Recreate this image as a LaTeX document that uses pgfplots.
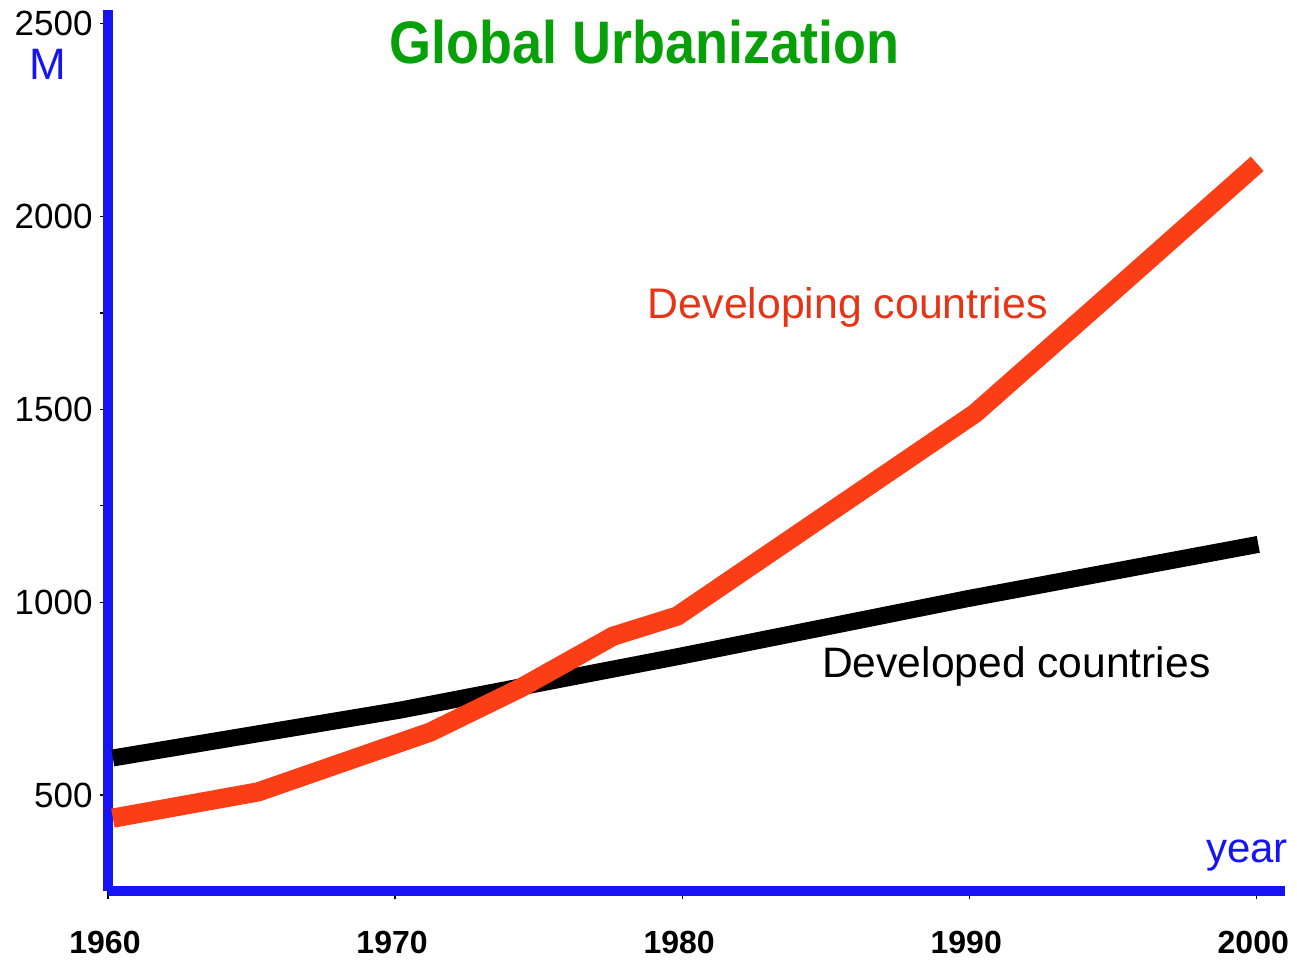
\documentclass[border=0pt]{standalone}
\usepackage{pgfplots}
\pgfplotsset{compat=1.18}
\usepackage{fontspec}
\setmainfont{Liberation Sans}
\definecolor{axblue}{RGB}{20,20,245}
\definecolor{devred}{RGB}{252,62,22}
\definecolor{txtred}{RGB}{232,52,22}
\definecolor{titlegreen}{RGB}{8,160,8}
\begin{document}
\begin{tikzpicture}
\useasboundingbox (0,0) rectangle (648.5pt,480.5pt);
\begin{axis}[
  at={(54pt,35pt)}, anchor=south west,
  scale only axis, width=588.5pt, height=440.5pt,
  xmin=1960, xmax=2001, ymin=251, ymax=2536,
  axis x line=bottom, axis y line=left,
  axis line style={axblue, line width=5pt, -},
  xtick={1960,1970,...,2000},
  ytick={500,1000,...,2500},
  minor ytick={1250,1750},
  tick align=outside,
  major tick length=4pt, minor tick length=4pt,
  tick style={black, line width=0.6pt},
  /pgf/number format/1000 sep={},
  /pgf/number format/assume math mode=true,
  xticklabel style={font=\fontsize{16}{16}\selectfont\bfseries, anchor=base, inner sep=0pt, yshift=-27.5pt, xshift=-1.5pt},
  yticklabel style={font=\fontsize{17.5}{17.5}\selectfont, anchor=east, inner sep=0pt, xshift=-3.5pt},
  clip=false,
]
\addplot[black, line width=8.5pt, line cap=butt, line join=round] coordinates {
  (1960.17,596) (1970.17,720) (1979.93,860) (1989.93,1009) (2000.07,1150)
};
\addplot[devred, line width=9.6pt, line cap=butt, line join=round] coordinates {
  (1960.17,440) (1965.23,508) (1971.22,663) (1974.36,777) (1977.6,912)
  (1979.83,964) (1990.21,1490) (1995,1805) (2000.03,2137)
};
\node[font=\fontsize{30}{30}\selectfont\bfseries, text=titlegreen, xscale=0.9, anchor=base] at (axis cs:1978.68,2396) {Global Urbanization};
\node[font=\fontsize{21.4}{21.4}\selectfont, text=txtred, anchor=base, inner sep=0pt] at (axis cs:1985.77,1736) {Developing countries};
\node[font=\fontsize{21.3}{21.3}\selectfont, text=black, anchor=base, inner sep=0pt] at (axis cs:1991.64,806) {Developed countries};
\node[font=\fontsize{21}{21}\selectfont, text=axblue, anchor=base east, inner sep=0pt] at (axis cs:2001.11,324) {year};
\node[font=\fontsize{22}{22}\selectfont, text=axblue, anchor=base, inner sep=0pt] at (axis cs:1957.91,2355) {M};
\end{axis}
\end{tikzpicture}
\end{document}
